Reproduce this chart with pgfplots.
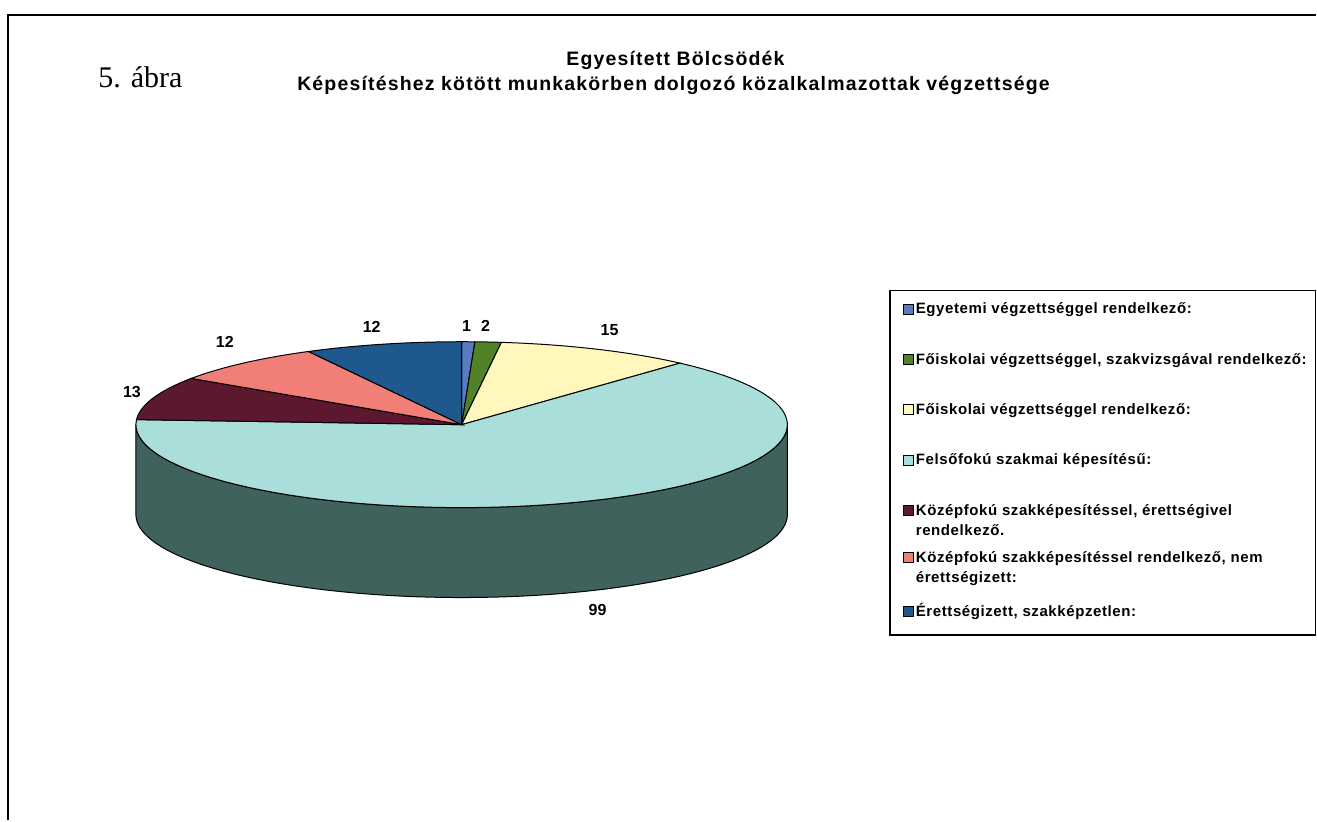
\documentclass[border=0pt]{standalone}
\usepackage{fontspec}
\setmainfont{Liberation Serif}
\newfontfamily\arial{Liberation Sans}
\newfontfamily\titlefont[LetterSpace=6]{Liberation Sans}
\newfontfamily\legfont[LetterSpace=4]{Liberation Sans}
\usepackage{pgfplots}
\usepackage{pgfplotstable}
\pgfplotsset{compat=1.18}

\definecolor{cEgy}{RGB}{88,124,190}
\definecolor{cFoiSz}{RGB}{82,130,40}
\definecolor{cFoi}{RGB}{255,247,188}
\definecolor{cFel}{RGB}{169,222,218}
\definecolor{cKozE}{RGB}{92,24,46}
\definecolor{cKozN}{RGB}{242,126,120}
\definecolor{cErett}{RGB}{30,88,140}
\definecolor{sEgy}{RGB}{40,56,86}
\definecolor{sFoiSz}{RGB}{37,58,18}
\definecolor{sFoi}{RGB}{115,111,85}
\definecolor{sFel}{RGB}{64,98,92}
\definecolor{sKozE}{RGB}{41,11,21}
\definecolor{sKozN}{RGB}{109,57,54}
\definecolor{sErett}{RGB}{14,40,63}

% value, top colour, side colour, label position (px from top left)
\pgfplotstableread{
value col    side   lx  ly
1     cEgy   sEgy   467 326
2     cFoiSz sFoiSz 486 326
15    cFoi   sFoi   610 330
99    cFel   sFel   598 610
13    cKozE  sKozE  132 392
12    cKozN  sKozN  225 342
12    cErett sErett 372 327
}\piedata

\def\cx{462}\def\cy{425}\def\rx{326}\def\ry{83}\def\dep{90}
\newcommand{\lent}[2]{\raisebox{0pt}[5pt][#1]{\makebox[193.5pt][l]{#2}}}
\tikzset{pielabel/.style={font=\arial\bfseries\fontsize{8}{9.5}\selectfont, inner sep=0pt}}

\begin{document}
\begin{tikzpicture}
\begin{axis}[
  scale only axis, width=658.5pt, height=410.5pt,
  xmin=0, xmax=1317, ymin=0, ymax=821, y dir=reverse,
  hide axis, clip=false,
  legend image code/.code={\draw[#1,draw=black,line width=0.4pt] (0pt,0pt) rectangle (5pt,5pt);},
  legend cell align=left,
  legend style={at={(axis cs:890,290)}, anchor=north west, draw=black, line width=0.75pt,
     inner xsep=6.5pt, inner ysep=6.5pt, row sep=0pt, column sep=1pt,
     font=\legfont\bfseries\fontsize{7.5}{10}\selectfont,
     nodes={inner sep=0pt, text depth={}, text height={}},
     cells={anchor=base west, inner xsep=0pt, inner ysep=0pt, text depth={}, text height={}}},
]
\path (0,0) rectangle (1317,821);
\pgfplotstablegetrowsof{\piedata}
\pgfmathtruncatemacro{\nlast}{\pgfplotsretval-1}
\def\total{0}
\pgfplotsforeachungrouped \i in {0,...,\nlast}{%
  \pgfplotstablegetelem{\i}{value}\of\piedata
  \pgfmathsetmacro{\total}{\total+\pgfplotsretval}}
% side walls (front half only)
\def\cum{0}
\pgfplotsforeachungrouped \i in {0,...,\nlast}{%
  \pgfplotstablegetelem{\i}{value}\of\piedata \let\val\pgfplotsretval
  \pgfplotstablegetelem{\i}{side}\of\piedata \let\scol\pgfplotsretval
  \pgfmathsetmacro{\sa}{min(90-\cum/\total*360,0)}%
  \pgfmathsetmacro{\sb}{max(90-(\cum+\val)/\total*360,-180)}%
  \pgfmathtruncatemacro{\vis}{\sa>\sb}%
  \ifnum\vis=1
    \edef\temp{\noexpand\fill[\scol,draw=black,line width=0.5pt] plot[domain=\sa:\sb,samples=80,variable=\noexpand\t] ({\cx+\rx*cos(\noexpand\t)},{\cy-\ry*sin(\noexpand\t)}) -- plot[domain=\sb:\sa,samples=80,variable=\noexpand\t] ({\cx+\rx*cos(\noexpand\t)},{\cy+\dep-\ry*sin(\noexpand\t)}) -- cycle;}%
    \temp
  \fi
  \pgfmathsetmacro{\cum}{\cum+\val}%
}
% top faces and labels
\def\cum{0}
\pgfplotsforeachungrouped \i in {0,...,\nlast}{%
  \pgfplotstablegetelem{\i}{value}\of\piedata \let\val\pgfplotsretval
  \pgfplotstablegetelem{\i}{col}\of\piedata \let\col\pgfplotsretval
  \pgfplotstablegetelem{\i}{lx}\of\piedata \let\lx\pgfplotsretval
  \pgfplotstablegetelem{\i}{ly}\of\piedata \let\ly\pgfplotsretval
  \pgfmathsetmacro{\a}{90-\cum/\total*360}%
  \pgfmathsetmacro{\b}{90-(\cum+\val)/\total*360}%
  \edef\temp{\noexpand\fill[\col,draw=black,line width=0.5pt] (\cx,\cy) -- plot[domain=\a:\b,samples=80,variable=\noexpand\t] ({\cx+\rx*cos(\noexpand\t)},{\cy-\ry*sin(\noexpand\t)}) -- cycle;
    \noexpand\node[pielabel] at (\lx,\ly) {\val};}%
  \temp
  \pgfmathsetmacro{\cum}{\cum+\val}%
}
% frame and titles
\draw[line width=1pt] (8,821) -- (8,15) -- (1317,15);
\node[anchor=base west, inner sep=0pt, font=\fontsize{15}{17}\selectfont] at (98,88) {5. ábra};
\node[anchor=base, inner sep=0pt, font=\titlefont\bfseries\fontsize{9.75}{12}\selectfont] at (676,66)
  {Egyesített Bölcsödék};
\node[anchor=base, inner sep=0pt, font=\titlefont\bfseries\fontsize{9.75}{12}\selectfont] at (674,91)
  {Képesítéshez kötött munkakörben dolgozó közalkalmazottak végzettsége};

\addlegendimage{fill=cEgy}
\addlegendentry{\lent{20pt}{Egyetemi végzettséggel rendelkező:}}
\addlegendimage{fill=cFoiSz}
\addlegendentry{\lent{20pt}{Főiskolai végzettséggel, szakvizsgával rendelkező:}}
\addlegendimage{fill=cFoi}
\addlegendentry{\lent{20pt}{Főiskolai végzettséggel rendelkező:}}
\addlegendimage{fill=cFel}
\addlegendentry{\lent{20pt}{Felsőfokú szakmai képesítésű:}}
\addlegendimage{fill=cKozE}
\addlegendentry{\lent{18.5pt}{\begin{tabular}[t]{@{}l@{}}Középfokú szakképesítéssel, érettségivel\\rendelkező.\end{tabular}}}
\addlegendimage{fill=cKozN}
\addlegendentry{\lent{21.5pt}{\begin{tabular}[t]{@{}l@{}}Középfokú szakképesítéssel rendelkező, nem\\érettségizett:\end{tabular}}}
\addlegendimage{fill=cErett}
\addlegendentry{\lent{3pt}{Érettségizett, szakképzetlen:}}
\end{axis}
\end{tikzpicture}
\end{document}
